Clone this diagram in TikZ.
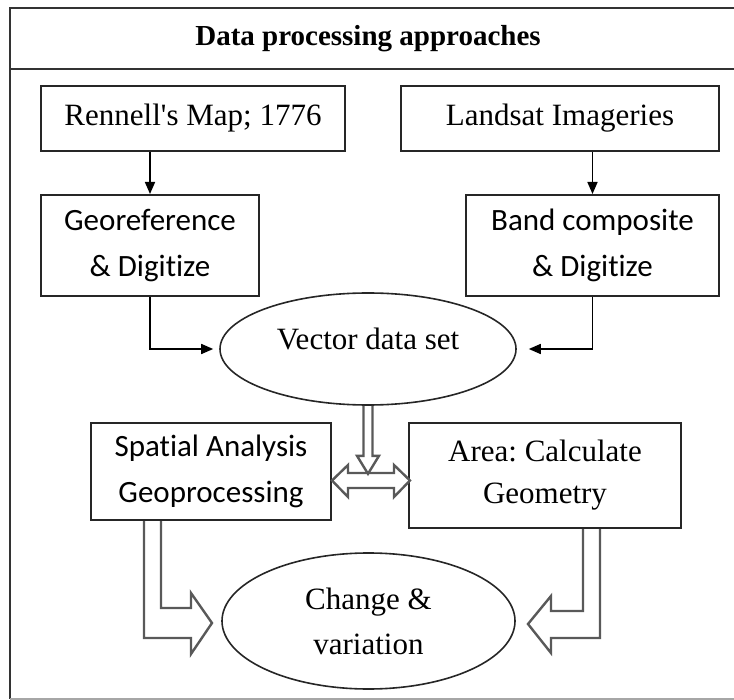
\documentclass[tikz,border=0pt]{standalone}
\usepackage{fontspec}
\setmainfont{Liberation Serif}
\newfontfamily\carlito[Ligatures=NoCommon]{Carlito}
\usetikzlibrary{arrows.meta,calc,shapes.geometric}

\begin{document}
\begin{tikzpicture}
    [
        x = 0.5pt, y = -0.5pt,
        line join = miter,
        stage/.style = {draw=black!85, line width=1pt, rectangle, align=center, inner sep=0pt},
        result/.style = {draw=black!85, line width=0.8pt, ellipse, align=center, inner sep=0pt},
        roman/.style = {font=\fontsize{15.5pt}{21pt}\selectfont},
        sans/.style = {font=\carlito\fontsize{15.5pt}{23pt}\selectfont},
        flow/.style = {draw=black, line width=0.8pt, -{Triangle[length=6pt,width=5pt]}},
        hollow/.style = {draw=black!65, line width=1.2pt},
    ]
    \useasboundingbox (0,0) rectangle (734,700);

    % frame and heading
    \draw[line width=1pt, black!80] (734,8) -- (10,8) -- (10,699);
    \draw[line width=1pt, black!80] (10,69) -- (734,69);
    \draw[line width=0.8pt, black!35] (10,699) -- (734,699);
    \node[font=\bfseries\fontsize{14.5pt}{17pt}\selectfont] (title) at (368,39) {Data processing approaches};

    % sources
    \node[stage, roman, minimum width=152pt, minimum height=32.5pt] (map) at (193,118.5) {Rennell\textquotesingle s Map; 1776};
    \node[stage, roman, minimum width=159pt, minimum height=32.5pt] (landsat) at (560,118.5) {Landsat Imageries};
    \node[stage, sans, minimum width=109pt, minimum height=50.5pt] (geo) at (150,245.5) {Georeference\\\& Digitize};
    \node[stage, sans, minimum width=126.5pt, minimum height=50.5pt] (band) at (592.5,245.5) {Band composite\\\& Digitize};

    \node[result, minimum width=148pt, minimum height=56pt,
        label={[roman, yshift=5pt]center:Vector data set}] (vec) at (368,349) {};

    \node[stage, sans, minimum width=120pt, minimum height=48.5pt] (spatial) at (211,471.5) {Spatial Analysis\\Geoprocessing};
    \node[stage, roman, minimum width=136pt, minimum height=52.5pt] (area) at (545,475.5) {Area:\ Calculate\\Geometry};

    \node[result, roman, font=\fontsize{15.5pt}{22.5pt}\selectfont, minimum width=146.5pt, minimum height=68pt] (change) at (368.5,621) {Change \&\\variation};

    % thin arrows
    \draw[flow] (map.south -| geo.north) -- (geo.north);
    \draw[flow] (landsat.south -| band.north) -- (band.north);
    \draw[flow, shorten >=3pt] (geo.south) |- (vec.west);
    \draw[flow, shorten >=6pt] (band.south) |- (vec.east);

    % hollow arrows
    \draw[hollow] ($(vec.south)+(-4.5,0)$) -- ++(0,50) -- ++(-6.5,0) -- ++(11,18)
        -- ++(11,-18) -- ++(-6.5,0) -- ++(0,-50);
    \draw[hollow] ($(spatial.east)+(0,9)$) -- ++(16,-15.5) -- ++(0,8) -- ++(46,0)
        -- ++(0,-8) -- ++(16,15.5) -- ++(-16,16.5) -- ++(0,-9) -- ++(-46,0)
        -- ++(0,9) -- cycle;
    \draw[hollow] ($(spatial.south west)+(71,0)$) -- ++(0,87) -- ++(30,0) -- ++(0,-15)
        -- ++(21,30) -- ++(-21,31) -- ++(0,-16) -- ++(-47,0) -- ++(0,-117);
    \draw[hollow] ($(area.south east)+(-99,0)$) -- ++(0,82) -- ++(-32,0) -- ++(0,-15)
        -- ++(-23,28) -- ++(23,29) -- ++(0,-15) -- ++(49,0) -- ++(0,-109);
\end{tikzpicture}
\end{document}
